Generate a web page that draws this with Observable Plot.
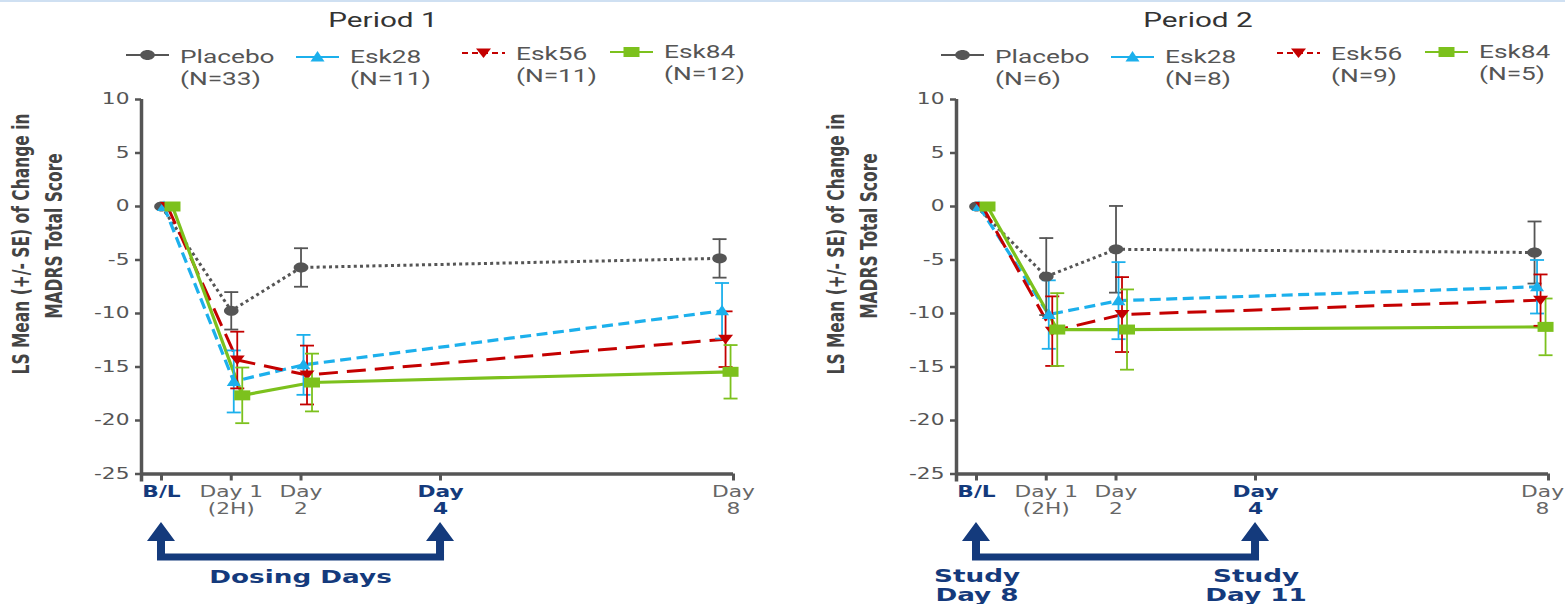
<!DOCTYPE html>
<html><head><meta charset="utf-8">
<script src="https://cdn.jsdelivr.net/npm/d3@7"></script>
<script src="https://cdn.jsdelivr.net/npm/@observablehq/plot@0.6"></script>
<style>
html,body{margin:0;padding:0;background:#fff;}
#wrap{position:relative;width:1565px;height:604px;overflow:hidden;background:#fff;}
#wrap svg{position:absolute;top:0;}
#topline{position:absolute;left:0;top:0;width:1565px;height:2px;background:#cfe0f2;}
</style></head><body><div id="wrap"></div>
<script>
// ---------- data ----------
const seriesNames = ["Placebo", "Esk28", "Esk56", "Esk84"];
const visitDays = [0, 1, 2, 8];               // B/L, Day 1 (2H), Day 2, Day 8
const tickDays = [0, 1, 2, 4, 8.2];
const tickLabels = ["B/L", "Day 1\n(2H)", "Day\n2", "Day\n4", "Day\n8"];
const boldTickDays = [0, 4];
const yTicks = [10, 5, 0, -5, -10, -15, -20, -25];

const periodTitles = ["Period 1", "Period 2"];
const p1N = [33, 11, 11, 12];
const p2N = [6, 8, 9, 5];

const p1Placebo = [0, -9.75, -5.7, -4.85];
const p1Esk28   = [0, -16.35, -14.8, -9.75];
const p1Esk56   = [0, -14.35, -15.75, -12.4];
const p1Esk84   = [0, -17.65, -16.45, -15.45];
const p1PlaceboSE = [0, 1.75, 1.8, 1.8];
const p1Esk28SE   = [0, 2.9, 2.8, 2.6];
const p1Esk56SE   = [0, 2.65, 2.75, 2.6];
const p1Esk84SE   = [0, 2.6, 2.7, 2.5];

const p2Placebo = [0, -6.55, -4.0, -4.3];
const p2Esk28   = [0, -10.1, -8.8, -7.5];
const p2Esk56   = [0, -11.65, -10.1, -8.75];
const p2Esk84   = [0, -11.5, -11.5, -11.25];
const p2PlaceboSE = [0, 3.6, 4.05, 2.9];
const p2Esk28SE   = [0, 3.2, 3.6, 2.5];
const p2Esk56SE   = [0, 3.25, 3.5, 2.4];
const p2Esk84SE   = [0, 3.4, 3.75, 2.65];

const bottomNotes = [
  {type: "between", texts: ["Dosing Days"]},
  {type: "each", texts: [["Study", "Day 8"], ["Study", "Day 11"]]}
];

// ---------- styling ----------
const navy = "#143a7c";
const axisColor = "#555";
const poly = pts => ({draw(ctx) { ctx.moveTo(pts[0][0], pts[0][1]); for (const p of pts.slice(1)) ctx.lineTo(p[0], p[1]); ctx.closePath(); }});
const ellipse = {draw(ctx) { const rx = 7.3, ry = 5; const n = 32; ctx.moveTo(rx, 0); for (let i = 1; i < n; i++) { const a = 2 * Math.PI * i / n; ctx.lineTo(rx * Math.cos(a), ry * Math.sin(a)); } ctx.closePath(); }};
const wideSquare = poly([[-8, -5], [8, -5], [8, 5], [-8, 5]]);
const triUp = poly([[0, -6], [7, 4.5], [-7, 4.5]]);
const triDown = poly([[0, 5], [7.5, -4.5], [-7.5, -4.5]]);
const capSym = {draw(ctx) { ctx.moveTo(-7, 0); ctx.lineTo(7, 0); }};

const styles = [
  {color: "#555555", dash: "3,3.2", width: 3, dx: 0, symbol: ellipse, legDash: null},
  {color: "#1cb0ec", dash: "11,5.5", width: 3.2, dx: 2.5, symbol: triUp, legDash: null},
  {color: "#c40000", dash: "19,9", width: 3, dx: 6, symbol: triDown, legDash: "6,4"},
  {color: "#7cc11d", dash: null, width: 3.2, dx: 11, symbol: wideSquare, legDash: null}
];

const periods = [
  {values: [p1Placebo, p1Esk28, p1Esk56, p1Esk84], se: [p1PlaceboSE, p1Esk28SE, p1Esk56SE, p1Esk84SE], n: p1N, left: 0, width: 815},
  {values: [p2Placebo, p2Esk28, p2Esk56, p2Esk84], se: [p2PlaceboSE, p2Esk28SE, p2Esk56SE, p2Esk84SE], n: p2N, left: 815, width: 750}
];

const labelOf = d => tickLabels[tickDays.indexOf(d)];

function addText(g, x, y, str, o = {}) {
  return g.append("text")
    .attr("transform", `translate(${x},${y}) scale(${o.sx ?? 1.42},1)${o.rotate ? ` rotate(${o.rotate})` : ""}`)
    .attr("text-anchor", o.anchor ?? "start")
    .attr("font-family", o.family ?? "Roboto")
    .attr("font-size", o.size ?? 18.5)
    .attr("font-weight", o.weight ?? "normal")
    .attr("fill", o.fill ?? "#444")
    .text(str);
}

function stretchTexts(sel, s) {
  sel.each(function () {
    const t = this.getAttribute("transform") || "";
    let x = parseFloat(this.getAttribute("x"));
    if (!isFinite(x)) x = 0;
    this.setAttribute("transform", `${t} translate(${x},0) scale(${s},1) translate(${-x},0)`);
  });
}

function makePanel(p, pi) {
  const rows = [];
  seriesNames.forEach((name, si) => visitDays.forEach((day, vi) =>
    rows.push({series: name, si, day, value: p.values[si][vi], se: p.se[si][vi]})));

  const marks = [
    Plot.ruleY([-25], {stroke: axisColor, strokeWidth: 3.5}),
    Plot.ruleX([-0.2867], {y1: 10, y2: -25, stroke: axisColor, strokeWidth: 3.5, insetBottom: -8}),
    Plot.axisY(yTicks, {tickSize: 6, tickPadding: 6, strokeWidth: 2.5, stroke: axisColor, fill: "#555", fontSize: 15, tickFormat: d => String(d), label: null}),
    Plot.axisX(tickDays.filter(d => !boldTickDays.includes(d)), {tickSize: 7, strokeWidth: 3, stroke: axisColor, fill: "#666", fontSize: 15, tickPadding: 4, lineHeight: 1.12, tickFormat: labelOf, label: null}),
    Plot.axisX(boldTickDays, {tickSize: 7, strokeWidth: 3, stroke: axisColor, fill: navy, fontWeight: "bold", fontSize: 15, tickPadding: 4, lineHeight: 1.12, tickFormat: labelOf, label: null})
  ];
  styles.forEach((s, si) => {
    const d = rows.filter(r => r.si === si);
    marks.push(Plot.line(d, {x: "day", y: "value", stroke: s.color, strokeWidth: s.width, strokeDasharray: s.dash, strokeLinecap: "butt", dx: s.dx}));
  });
  styles.forEach((s, si) => {
    const e = rows.filter(r => r.si === si && r.se > 0);
    marks.push(Plot.ruleX(e, {x: "day", y1: r => r.value - r.se, y2: r => r.value + r.se, stroke: s.color, strokeWidth: 1.8, dx: s.dx}));
    marks.push(Plot.dot(e, {x: "day", y: r => r.value + r.se, symbol: capSym, stroke: s.color, fill: "none", strokeWidth: 1.8, dx: s.dx}));
    marks.push(Plot.dot(e, {x: "day", y: r => r.value - r.se, symbol: capSym, stroke: s.color, fill: "none", strokeWidth: 1.8, dx: s.dx}));
  });
  styles.forEach((s, si) => {
    const d = rows.filter(r => r.si === si);
    marks.push(Plot.dot(d, {x: "day", y: "value", symbol: s.symbol, fill: s.color, stroke: "none", dx: s.dx}));
  });

  const plot = Plot.plot({
    width: p.width, height: 604,
    marginLeft: 141, marginRight: p.width - 733, marginTop: 99, marginBottom: 130.5,
    x: {domain: [-0.2867, 8.2], label: null},
    y: {domain: [-25, 10], label: null},
    style: {fontFamily: "DejaVu Sans", color: "#555", background: "transparent", overflow: "visible"},
    marks
  });
  plot.style.left = p.left + "px";

  const svg = d3.select(plot);
  stretchTexts(svg.selectAll('g[aria-label="x-axis tick label"] text'), 1.45);
  stretchTexts(svg.selectAll('g[aria-label="y-axis tick label"] text'), 1.45);

  const xs = plot.scale("x"), ys = plot.scale("y");
  const yb = ys.apply(-25);
  const g = svg.append("g");

  // title
  addText(g, 383, 27, periodTitles[pi], {anchor: "middle", size: 20.5, fill: "#333", sx: 1.45});

  // legend
  const legX = [126, 296, 462, 610];
  const symY = [55, 57, 53, 52];
  const txtY = [63, 63, 60, 58];
  const nY = [85, 85, 82, 80];
  styles.forEach((s, si) => {
    const x0 = legX[si];
    g.append("line").attr("x1", x0).attr("x2", x0 + 43).attr("y1", symY[si]).attr("y2", symY[si])
      .attr("stroke", s.color).attr("stroke-width", 2).attr("stroke-dasharray", s.legDash);
    g.append("path").attr("transform", `translate(${x0 + 21.5},${symY[si]})`)
      .attr("d", d3.symbol(s.symbol)()).attr("fill", s.color);
    addText(g, x0 + 54, txtY[si], seriesNames[si], {size: 18.5, fill: "#555"});
    addText(g, x0 + 54, nY[si], `(N=${p.n[si]})`, {size: 18.5, fill: "#555"});
  });

  // y label
  addText(g, 29, 244, "LS Mean (+/- SE) of Change in", {family: "DejaVu Sans", weight: "bold", size: 15.5, anchor: "middle", rotate: -90, sx: 1.5, fill: "#444"});
  addText(g, 62, 236, "MADRS Total Score", {family: "DejaVu Sans", weight: "bold", size: 15.5, anchor: "middle", rotate: -90, sx: 1.5, fill: "#444"});

  // bracket arrows
  const xL = xs.apply(boldTickDays[0]), xR = xs.apply(boldTickDays[1]);
  const ht = yb + 48.5, hb = yb + 67.5, bt = yb + 80, bb = yb + 87;
  g.append("path").attr("fill", navy).attr("d",
    `M${xL - 14},${hb}L${xL},${ht}L${xL + 14},${hb}L${xL + 4},${hb}L${xL + 4},${bt}L${xR - 4},${bt}L${xR - 4},${hb}L${xR - 14},${hb}L${xR},${ht}L${xR + 14},${hb}L${xR + 4},${hb}L${xR + 4},${bb}L${xL - 4},${bb}L${xL - 4},${hb}Z`);

  const note = bottomNotes[pi];
  if (note.type === "between") {
    addText(g, (xL + xR) / 2, yb + 109.5, note.texts[0], {family: "DejaVu Sans", weight: "bold", size: 18.5, anchor: "middle", fill: navy, sx: 1.42});
  } else {
    [xL, xR].forEach((x, k) => {
      note.texts[k].forEach((t, li) => addText(g, x + 1, yb + 108.5 + li * 18.5, t, {family: "DejaVu Sans", weight: "bold", size: 18.5, anchor: "middle", fill: navy, sx: 1.42}));
    });
  }
  return plot;
}

const wrap = document.getElementById("wrap");
periods.forEach((p, i) => wrap.appendChild(makePanel(p, i)));
const tl = document.createElement("div"); tl.id = "topline"; wrap.appendChild(tl);

// keep tick labels inside the page: nudge any label that runs past the right edge
const pageRight = wrap.getBoundingClientRect().right - 1;
wrap.querySelectorAll('g[aria-label="x-axis tick label"] text').forEach(el => {
  const r = el.getBoundingClientRect();
  if (r.right > pageRight) {
    el.setAttribute("transform", `translate(${-(r.right - pageRight)},0) ${el.getAttribute("transform")}`);
  }
});
</script>
</body></html>
